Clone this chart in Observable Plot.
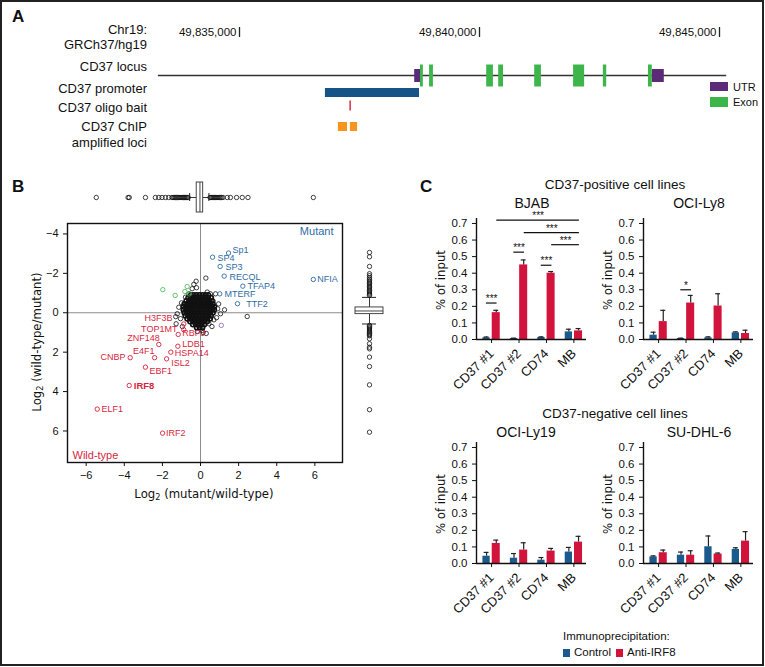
<!DOCTYPE html>
<html><head><meta charset="utf-8">
<script src="https://cdn.jsdelivr.net/npm/d3@7"></script>
<script src="https://cdn.jsdelivr.net/npm/@observablehq/plot@0.6"></script>
<style>
body{margin:0;background:#fff;}
#fig{position:relative;width:765px;height:667px;overflow:hidden;font-family:"Liberation Sans",Arial,Helvetica,sans-serif;color:#111;background:#fff;}
#border{position:absolute;left:0;top:0;width:764px;height:666px;border:2px solid #222;box-sizing:border-box;}
.t{position:absolute;white-space:nowrap;line-height:1;}
.narrow{font-family:"Liberation Sans Narrow","Arial Narrow","DejaVu Sans Condensed",sans-serif;}
.t sub{font-size:70%;vertical-align:-0.25em;line-height:0;}
.sw{position:absolute;}
</style></head><body><div id="fig"><div id="border"></div></div>
<script>
// ---------------- DATA ----------------
// Panel A: genomic features (Chr19, GRCh37/hg19)
const axisTicks = [49835000, 49840000, 49845000];
const locusRange = [49833310, 49845150];
const utrStart = [49838650, 49843600];
const utrEnd   = [49838790, 49843850];
const exonStart = [49838770, 49838960, 49840150, 49840400, 49841150, 49841960, 49842580, 49843520];
const exonEnd   = [49838830, 49839040, 49840290, 49840500, 49841290, 49842190, 49842650, 49843600];
const promoterRange = [49836790, 49838750];
const baitRange = [49837300, 49837330];
const chipStart = [49837060, 49837310];
const chipEnd   = [49837250, 49837460];

// Panel B: scatter
const xTicks = [-6, -4, -2, 0, 2, 4, 6];
const yTicks = [-4, -2, 0, 2, 4, 6];
const mutGenes = ["Sp1", "SP4", "SP3", "RECQL", "TFAP4", "MTERF", "NFIA", "TTF2"];
const mutX  = [1.47, 0.63, 1.03, 1.24, 2.22, 1.01, 5.92, 1.94];
const mutY  = [-3.03, -2.82, -2.35, -1.86, -1.35, -0.96, -1.69, -0.46];
const mutLX = [1.68, 0.89, 1.31, 1.52, 2.47, 1.26, 6.13, 2.40];
const mutLY = [-3.18, -2.76, -2.30, -1.80, -1.35, -0.93, -1.69, -0.42];
const wtGenes = ["H3F3B", "TOP1MT", "RBPJ", "ZNF148", "LDB1", "E4F1", "HSPA14", "CNBP", "ISL2", "EBF1", "IRF8", "ELF1", "IRF2"];
const wtX  = [-0.88, -0.88, -1.17, -2.19, -1.19, -2.41, -1.56, -3.69, -1.78, -2.89, -3.74, -5.42, -1.99];
const wtY  = [0.57, 0.86, 1.10, 1.61, 1.70, 2.28, 2.00, 2.28, 2.34, 2.76, 3.69, 4.89, 6.11];
const wtLX = [-1.47, -1.21, -0.96, -2.14, -0.96, -2.41, -1.35, -3.94, -1.53, -2.68, -3.50, -5.20, -1.81];
const wtLY = [0.27, 0.81, 1.05, 1.30, 1.59, 1.95, 2.07, 2.25, 2.58, 2.96, 3.69, 4.89, 6.11];
const wtSide = ["end", "end", "start", "end", "start", "end", "start", "end", "start", "start", "start", "start", "start"];
const greenPts = [[-1.98, -1.17], [-1.33, -0.88], [-0.82, -1.08], [-0.70, -1.33], [-0.58, -0.96]];
const purplePts = [[1.09, 0.64]];
const otherPts = [[0.28, -1.76], [-0.23, -1.60], [-0.35, -1.44], [-0.21, -1.27], [2.45, 0.19], [1.26, -0.15],
  [1.05, 0.05], [0.84, 0.25], [0.58, -0.79], [0.52, -0.96], [-1.14, -0.28], [-1.22, 0.05], [-1.05, 0.30],
  [-1.28, 0.56], [0.09, 0.90], [0.14, 1.00], [-0.17, 0.95], [0.44, 0.56], [0.70, 0.36], [-0.44, -1.22],
  [-0.79, -0.79], [-0.61, -0.96], [0.79, -0.96], [0.35, -1.05], [0.95, -0.45], [0.90, -0.20], [-1.00, -0.50],
  [-0.95, 0.70], [0.60, 0.70], [0.30, 1.05], [-1.30, 0.20], [0.66, -0.60]];
// dense central cloud: [y, x values]
const coreRows = [
  [-0.90, [-0.50, -0.35, -0.20, -0.05, 0.10, 0.25, 0.40]],
  [-0.75, [-0.65, -0.50, -0.35, -0.20, -0.05, 0.10, 0.25, 0.40, 0.55]],
  [-0.60, [-0.75, -0.60, -0.45, -0.30, -0.15, 0.00, 0.15, 0.30, 0.45, 0.60]],
  [-0.45, [-0.85, -0.70, -0.55, -0.40, -0.25, -0.10, 0.05, 0.20, 0.35, 0.50, 0.65]],
  [-0.30, [-0.90, -0.75, -0.60, -0.45, -0.30, -0.15, 0.00, 0.15, 0.30, 0.45, 0.60, 0.72]],
  [-0.15, [-0.90, -0.75, -0.60, -0.45, -0.30, -0.15, 0.00, 0.15, 0.30, 0.45, 0.60, 0.72]],
  [0.00, [-0.85, -0.70, -0.55, -0.40, -0.25, -0.10, 0.05, 0.20, 0.35, 0.50, 0.65]],
  [0.15, [-0.80, -0.65, -0.50, -0.35, -0.20, -0.05, 0.10, 0.25, 0.40, 0.55]],
  [0.30, [-0.70, -0.55, -0.40, -0.25, -0.10, 0.05, 0.20, 0.35, 0.50]],
  [0.45, [-0.55, -0.40, -0.25, -0.10, 0.05, 0.20, 0.35]],
  [0.60, [-0.40, -0.25, -0.10, 0.05, 0.20]],
  [0.75, [-0.20, -0.05, 0.10]]
];
// marginal boxplots: [lowWhisker, q1, median, q3, highWhisker]
const xBoxStats = [-0.57, -0.20, -0.03, 0.14, 0.44];
const xOutliers = [-5.47, -3.80, -3.74, -2.89, -2.37, -2.19, -2.02, -1.84, -1.67, -1.50, -1.44, -1.38, -1.32,
  -1.26, -1.20, -1.14, -1.08, -1.02, -0.96, -0.90, -0.85, -0.80, -0.75, -0.70, -0.65,
  0.50, 0.55, 0.60, 0.65, 0.70, 0.75, 0.80, 0.86, 0.92, 0.98, 1.04, 1.10, 1.18, 1.40, 1.57, 1.89, 2.19, 2.49, 5.92];
const yBoxStats = [-0.78, -0.27, -0.09, 0.07, 0.57];
const yOutliers = [-3.06, -2.84, -2.35, -1.98, -1.88, -1.78, -1.70, -1.62, -1.55, -1.48, -1.41, -1.34, -1.27,
  -1.20, -1.13, -1.06, -1.00, -0.94, -0.88, 0.64, 0.70, 0.76, 0.82, 0.88, 0.94, 1.00, 1.06, 1.12, 1.17,
  1.32, 1.57, 1.75, 1.83, 2.25, 2.73, 3.66, 4.92, 6.06];

// Panel C: ChIP-qPCR, % of input (mean, upper error)
const groups = ["CD37 #1", "CD37 #2", "CD74", "MB"];
const yTicksC = [0, 0.1, 0.2, 0.3, 0.4, 0.5, 0.6, 0.7];
const bjabCtrl = [0.010, 0.006, 0.012, 0.046];
const bjabCtrlErr = [0.005, 0.002, 0.004, 0.016];
const bjabIrf8 = [0.162, 0.450, 0.400, 0.052];
const bjabIrf8Err = [0.014, 0.030, 0.010, 0.014];
const ly8Ctrl = [0.026, 0.006, 0.010, 0.040];
const ly8CtrlErr = [0.018, 0.002, 0.006, 0.006];
const ly8Irf8 = [0.108, 0.220, 0.202, 0.036];
const ly8Irf8Err = [0.068, 0.046, 0.074, 0.020];
const ly19Ctrl = [0.044, 0.032, 0.020, 0.069];
const ly19CtrlErr = [0.023, 0.028, 0.016, 0.028];
const ly19Irf8 = [0.121, 0.081, 0.075, 0.129];
const ly19Irf8Err = [0.020, 0.044, 0.016, 0.035];
const dhl6Ctrl = [0.040, 0.050, 0.101, 0.085];
const dhl6CtrlErr = [0.006, 0.019, 0.065, 0.010];
const dhl6Irf8 = [0.065, 0.050, 0.057, 0.135];
const dhl6Irf8Err = [0.016, 0.027, 0.006, 0.057];
const bjabPairGroups = [0, 1, 2];
const bjabPairY = [0.22, 0.527, 0.448];
const bjabSpanFrom = [0, 1, 2];
const bjabSpanY = [0.72, 0.645, 0.572];
const ly8PairGroups = [1];
const ly8PairY = [0.30];

// ---------------- STYLE ----------------
const FONT = '"Liberation Sans", Arial, Helvetica, sans-serif';
const C_BLUEBAR = "#1b5a8d", C_REDBAR = "#d2143c";
const C_BLUETXT = "#2e6ca4", C_REDTXT = "#d81f40";
const C_GREEN = "#3cb54b", C_PURPLE = "#5b2b77", C_ORANGE = "#f7941e", C_PROM = "#165487", C_BAIT = "#d9213c";
const LABEL_SIZE = 9;
const fig = document.getElementById("fig");

function txt(html, x, y, o = {}) {
  const d = document.createElement("div");
  d.className = "t" + (o.cls ? " " + o.cls : "");
  d.innerHTML = html;
  d.style.left = x + "px"; d.style.top = y + "px";
  d.style.fontSize = (o.size || 13) + "px";
  if (o.weight) d.style.fontWeight = o.weight;
  if (o.color) d.style.color = o.color;
  const tx = o.anchor === "start" ? "0" : o.anchor === "end" ? "-100%" : "-50%";
  d.style.transform = `translate(${tx},-50%)` + (o.rotate ? ` rotate(${o.rotate}deg)` : "");
  fig.appendChild(d);
}
function swatch(x, y, w, h, color) {
  const d = document.createElement("div");
  d.className = "sw";
  Object.assign(d.style, {left: x + "px", top: y + "px", width: w + "px", height: h + "px", background: color});
  fig.appendChild(d);
}
function place(svg, left, top) {
  svg.style.position = "absolute";
  svg.style.left = left + "px";
  svg.style.top = top + "px";
  fig.appendChild(svg);
}
const baseStyle = (size) => ({fontFamily: FONT, fontSize: size + "px", background: "transparent", overflow: "visible", color: "#111"});

// ---------------- PANEL A ----------------
const seg = (s, e, track) => s.map((v, i) => ({track, s: v, e: e[i]}));
const aPlot = Plot.plot({
  width: 765, height: 175, marginLeft: 239, marginRight: 46, marginTop: 0, marginBottom: 0,
  x: {domain: [axisTicks[0], axisTicks[axisTicks.length - 1]], axis: null},
  y: {type: "point", domain: ["locus", "promoter", "bait", "chip"], range: [66, 134.5], axis: null},
  style: baseStyle(11.5),
  marks: [
    Plot.text(axisTicks, {x: d => d, text: d => d3.format(",")(d), frameAnchor: "top", dy: 32, dx: -3, textAnchor: "end", lineAnchor: "middle", fill: "#111"}),
    Plot.ruleX(axisTicks, {x: d => d, insetTop: 27, insetBottom: 175 - 37, stroke: "#222", strokeWidth: 1.3}),
    Plot.ruleY(seg([locusRange[0]], [locusRange[1]], "locus"), {y: "track", x1: "s", x2: "e", stroke: "#333", strokeWidth: 1.6}),
    Plot.ruleY(seg(utrStart, utrEnd, "locus"), {y: "track", x1: "s", x2: "e", stroke: C_PURPLE, strokeWidth: 13}),
    Plot.ruleY(seg(exonStart, exonEnd, "locus"), {y: "track", x1: "s", x2: "e", stroke: C_GREEN, strokeWidth: 22}),
    Plot.ruleY(seg([promoterRange[0]], [promoterRange[1]], "promoter"), {y: "track", x1: "s", x2: "e", stroke: C_PROM, strokeWidth: 9}),
    Plot.ruleY(seg([baitRange[0]], [baitRange[1]], "bait"), {y: "track", x1: "s", x2: "e", stroke: C_BAIT, strokeWidth: 10, dy: -4}),
    Plot.ruleY(seg(chipStart, chipEnd, "chip"), {y: "track", x1: "s", x2: "e", stroke: C_ORANGE, strokeWidth: 9})
  ]
});
place(aPlot, 0, 0);
txt("A", 12, 16, {anchor: "start", size: 17, weight: 700});
[["Chr19:", 29], ["GRCh37/hg19", 44], ["CD37 locus", 66], ["CD37 promoter", 88], ["CD37 oligo bait", 107], ["CD37 ChIP", 126], ["amplified loci", 142]]
  .forEach(([s, y]) => txt(s, 147, y, {anchor: "end", size: 13}));
swatch(710, 82, 18, 9, C_PURPLE); txt("UTR", 733, 87, {anchor: "start", size: 11});
swatch(710, 97, 18, 10, C_GREEN); txt("Exon", 733, 102, {anchor: "start", size: 11});

// ---------------- PANEL B ----------------
const xDom = [-6.98, 7.45], yDom = [-4.53, 7.6];
const mutant = mutGenes.map((g, i) => ({g, x: mutX[i], y: mutY[i], lx: mutLX[i], ly: mutLY[i]}));
const wild = wtGenes.map((g, i) => ({g, x: wtX[i], y: wtY[i], lx: wtLX[i], ly: wtLY[i], side: wtSide[i]}));
const core = coreRows.flatMap(([y, xs]) => xs.map(x => ({x, y})));
const dotOpts = (stroke) => ({x: d => d[0], y: d => d[1], r: 2.2, stroke, strokeWidth: 0.8, fill: "none"});
const sc = Plot.plot({
  width: 400, height: 335, marginLeft: 67, marginRight: 58, marginTop: 48, marginBottom: 48,
  x: {domain: xDom, ticks: xTicks, tickSize: 4, label: null},
  y: {domain: yDom, reverse: true, ticks: yTicks, tickSize: 4, label: null},
  style: baseStyle(11),
  marks: [
    Plot.ruleX([0], {stroke: "#8c8c8c", strokeWidth: 1}),
    Plot.ruleY([0], {stroke: "#8c8c8c", strokeWidth: 1}),
    Plot.dot(otherPts, dotOpts("#111")),
    Plot.dot(core, {x: "x", y: "y", r: 2.2, stroke: "#111", strokeWidth: 1.6}),
    Plot.dot(greenPts, dotOpts(C_GREEN)),
    Plot.dot(purplePts, dotOpts("#8a5aa6")),
    Plot.dot(mutant, {x: "x", y: "y", r: 2.2, stroke: C_BLUETXT, strokeWidth: 0.9}),
    Plot.text(mutant, {x: "lx", y: "ly", text: "g", textAnchor: "start", fill: C_BLUETXT, fontSize: LABEL_SIZE}),
    Plot.dot(wild, {x: "x", y: "y", r: 2.2, stroke: C_REDTXT, strokeWidth: 0.9}),
    Plot.text(wild.filter(d => d.side === "end"), {x: "lx", y: "ly", text: "g", textAnchor: "end", fill: C_REDTXT, fontSize: LABEL_SIZE}),
    Plot.text(wild.filter(d => d.side === "start" && d.g !== "IRF8"), {x: "lx", y: "ly", text: "g", textAnchor: "start", fill: C_REDTXT, fontSize: LABEL_SIZE}),
    Plot.text(wild.filter(d => d.g === "IRF8"), {x: "lx", y: "ly", text: "g", textAnchor: "start", fill: C_REDTXT, fontSize: 9.5, fontWeight: "bold"}),
    Plot.text(["Mutant"], {frameAnchor: "top-right", dx: -9, dy: 4, fill: C_BLUETXT, fontSize: 11}),
    Plot.text(["Wild-type"], {frameAnchor: "bottom-left", dx: 5, dy: -4, fill: C_REDTXT, fontSize: 11}),
    Plot.frame({stroke: "#111", strokeWidth: 1.4})
  ]
});
place(sc, 0, 175);

const xb = {lo: xBoxStats[0], q1: xBoxStats[1], med: xBoxStats[2], q3: xBoxStats[3], hi: xBoxStats[4]};
const one = () => "all";
const topBox = Plot.plot({
  width: 400, height: 30, marginLeft: 67, marginRight: 58, marginTop: 0, marginBottom: 0,
  x: {domain: xDom, axis: null},
  y: {type: "band", domain: ["all"], padding: 0, axis: null},
  style: baseStyle(10),
  marks: [
    Plot.ruleY([xb], {y: one, x1: "lo", x2: "q1", stroke: "#222", strokeWidth: 0.9}),
    Plot.ruleY([xb], {y: one, x1: "q3", x2: "hi", stroke: "#222", strokeWidth: 0.9}),
    Plot.tickX([xb.lo, xb.hi], {x: d => d, y: one, insetTop: 11, insetBottom: 11, stroke: "#222", strokeWidth: 1}),
    Plot.dot(xOutliers, {x: d => d, y: one, r: 2.2, stroke: "#111", strokeWidth: 0.8}),
    Plot.barX([xb], {x1: "q1", x2: "q3", y: one, fill: "white", stroke: "#333", strokeWidth: 0.9}),
    Plot.tickX([xb.med], {x: d => d, y: one, stroke: "#333", strokeWidth: 0.9})
  ]
});
place(topBox, 0, 182);

const yb = {lo: yBoxStats[0], q1: yBoxStats[1], med: yBoxStats[2], q3: yBoxStats[3], hi: yBoxStats[4]};
const rightBox = Plot.plot({
  width: 58, height: 335, marginLeft: 13, marginRight: 17, marginTop: 48, marginBottom: 48,
  y: {domain: yDom, reverse: true, axis: null},
  x: {type: "band", domain: ["all"], padding: 0, axis: null},
  style: baseStyle(10),
  marks: [
    Plot.ruleX([yb], {x: one, y1: "lo", y2: "q1", stroke: "#222", strokeWidth: 0.9}),
    Plot.ruleX([yb], {x: one, y1: "q3", y2: "hi", stroke: "#222", strokeWidth: 0.9}),
    Plot.tickY([yb.lo, yb.hi], {y: d => d, x: one, insetLeft: 7, insetRight: 7, stroke: "#222", strokeWidth: 1}),
    Plot.dot(yOutliers, {y: d => d, x: one, r: 2.2, stroke: "#111", strokeWidth: 0.8}),
    Plot.barY([yb], {y1: "q1", y2: "q3", x: one, fill: "white", stroke: "#333", strokeWidth: 0.9}),
    Plot.tickY([yb.med], {y: d => d, x: one, stroke: "#333", strokeWidth: 0.9})
  ]
});
place(rightBox, 342, 175);

txt("B", 12, 186, {anchor: "start", size: 17, weight: 700});
txt("Log<sub>2</sub> (wild-type/mutant)", 36, 342, {cls: "narrow", size: 13, rotate: -90});
txt("Log<sub>2</sub> (mutant/wild-type)", 204, 493, {cls: "narrow", size: 13});

// ---------------- PANEL C ----------------
const xDomC = [-0.55, 3.46];
function barChart(ctrl, ctrlErr, irf, irfErr, pairG, pairY, pairLabel, spanFrom, spanY) {
  const rows = groups.map((g, i) => ({i, c: ctrl[i], ce: ctrlErr[i], r: irf[i], re: irfErr[i]}));
  const pairs = pairG.map((g, k) => ({g, y: pairY[k]}));
  const spans = spanFrom.map((g, k) => ({a: g + 0.19, b: groups.length - 1 + 0.2, y: spanY[k]}));
  const cOff = -0.183, rOff = 0.17, cap = 0.09;
  const svg = Plot.plot({
    width: 190, height: 210, marginLeft: 76, marginRight: 4, marginTop: 23, marginBottom: 66,
    x: {domain: xDomC, ticks: groups.map((g, i) => i), tickFormat: i => groups[i], tickRotate: -45, tickSize: 4, label: null},
    y: {domain: [0, 0.73], ticks: yTicksC, tickFormat: d3.format(".1f"), tickSize: 4, label: null},
    style: baseStyle(11.5),
    marks: [
      Plot.rect(rows, {x1: d => d.i - 0.316, x2: d => d.i - 0.05, y1: 0, y2: "c", fill: C_BLUEBAR}),
      Plot.rect(rows, {x1: d => d.i + 0.023, x2: d => d.i + 0.316, y1: 0, y2: "r", fill: C_REDBAR}),
      Plot.ruleX(rows, {x: d => d.i + cOff, y1: "c", y2: d => d.c + d.ce, stroke: "#222", strokeWidth: 1.2}),
      Plot.ruleY(rows, {y: d => d.c + d.ce, x1: d => d.i + cOff - cap, x2: d => d.i + cOff + cap, stroke: "#222", strokeWidth: 1.2}),
      Plot.ruleX(rows, {x: d => d.i + rOff, y1: "r", y2: d => d.r + d.re, stroke: "#222", strokeWidth: 1.2}),
      Plot.ruleY(rows, {y: d => d.r + d.re, x1: d => d.i + rOff - cap, x2: d => d.i + rOff + cap, stroke: "#222", strokeWidth: 1.2}),
      Plot.ruleY([0], {stroke: "#111", strokeWidth: 1.4}),
      Plot.ruleX([xDomC[0]], {stroke: "#111", strokeWidth: 1.4}),
      Plot.ruleY(pairs, {y: "y", x1: d => d.g - 0.19, x2: d => d.g + 0.2, stroke: "#111", strokeWidth: 1.2}),
      Plot.text(pairs, {x: "g", y: "y", text: () => pairLabel, dy: -1, lineAnchor: "bottom", fontSize: 10, fill: "#111"}),
      Plot.ruleY(spans, {y: "y", x1: "a", x2: "b", stroke: "#111", strokeWidth: 1.2}),
      Plot.text(spans, {x: d => (d.a + d.b) / 2, y: "y", text: () => "***", dy: -1, lineAnchor: "bottom", fontSize: 10, fill: "#111"})
    ]
  });
  d3.select(svg).selectAll('g[aria-label^="x-axis"] text').style("font-size", "13px");
  return svg;
}
place(barChart(bjabCtrl, bjabCtrlErr, bjabIrf8, bjabIrf8Err, bjabPairGroups, bjabPairY, "***", bjabSpanFrom, bjabSpanY), 400, 195);
place(barChart(ly8Ctrl, ly8CtrlErr, ly8Irf8, ly8Irf8Err, ly8PairGroups, ly8PairY, "*", [], []), 567, 195);
place(barChart(ly19Ctrl, ly19CtrlErr, ly19Irf8, ly19Irf8Err, [], [], "", [], []), 400, 419);
place(barChart(dhl6Ctrl, dhl6CtrlErr, dhl6Irf8, dhl6Irf8Err, [], [], "", [], []), 567, 419);

txt("C", 420, 186, {anchor: "start", size: 17, weight: 700});
txt("CD37-positive cell lines", 615, 185, {size: 13.5});
txt("BJAB", 532, 203, {size: 14});
txt("OCI-Ly8", 699, 203, {size: 14});
txt("CD37-negative cell lines", 615, 414, {size: 13.5});
txt("OCI-Ly19", 526, 432, {size: 14});
txt("SU-DHL-6", 699, 432, {size: 14});
[[440, 280], [607, 280], [440, 504], [607, 504]].forEach(([x, y]) => txt("% of input", x, y, {cls: "narrow", size: 13, rotate: -90}));
txt("Immunoprecipitation:", 563, 637, {anchor: "start", size: 11.5});
swatch(563, 649, 7, 8, C_BLUEBAR); txt("Control", 574, 653, {anchor: "start", size: 11.5});
swatch(616, 649, 7, 8, C_REDBAR); txt("Anti-IRF8", 627, 653, {anchor: "start", size: 11.5});
</script></body></html>
